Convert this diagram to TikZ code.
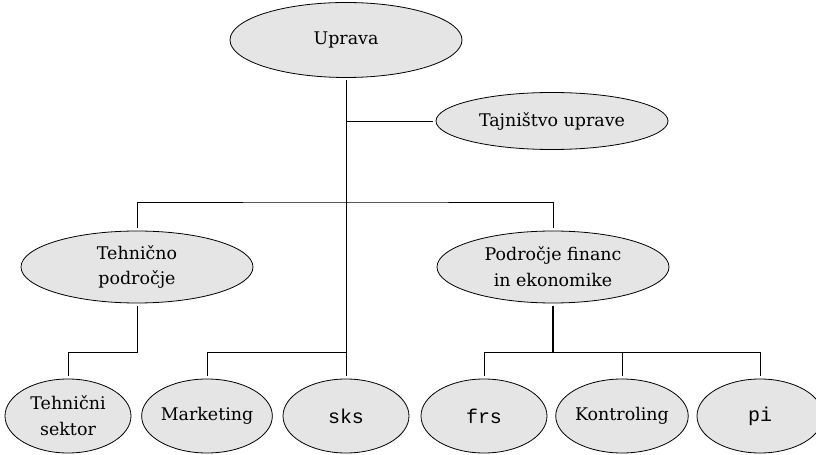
\documentclass[tikz,border=0pt]{standalone}
\usepackage{fontspec}
\setmainfont{DejaVu Serif}
\setmonofont{Liberation Mono}
\usepackage{tikz}
\usetikzlibrary{positioning}
\usetikzlibrary{shapes,shapes.geometric,calc}

\begin{document}
\begin{tikzpicture}[x=1bp,y=-1bp,line width=0.8bp,
    unit/.style={ellipse,draw,fill=black!10,inner sep=0pt,outer sep=3bp,
      align=center,font=\fontsize{17.5}{26}\selectfont,
      minimum width=232bp,minimum height=72bp},
    leaf/.style={unit,minimum width=126bp,minimum height=74bp},
    code/.style={font=\ttfamily\fontsize{20}{26}\selectfont}]
    \useasboundingbox (0,0) rectangle (816,455);

        \node[unit,minimum height=75bp] (uprava) at (346,40) {Uprava};
        \node[unit,minimum height=57bp] (tajnistvo) at (552,121) {Tajništvo uprave};
        \node[unit] (tehnicno) at (137,267) {Tehnično\\področje};
        \node[unit] (financ) at (553,267) {Področje financ\\in ekonomike};

        \node[leaf] (tsektor) at (68,416) {Tehnični\\sektor};
        \node[leaf] (marketing) at (207,416) {Marketing};
        \node[leaf,code] (sks) at (346,416) {sks};
        \node[leaf,code] (frs) at (484,416) {frs};
        \node[leaf] (kontroling) at (622,416) {Kontroling};
        \node[leaf,code] (pi) at (760,416) {pi};

        \coordinate (midbus) at (0,202);
        \coordinate (lowbus) at (0,352);

        % trunk and staff unit
        \draw (uprava.south) -- (uprava.south |- sks.north);
        \draw (uprava.south |- tajnistvo.west) -- (tajnistvo.west);
        \draw (tehnicno.north) |- (uprava.south |- midbus) -| (financ.north);

        % lower level
        \draw (tehnicno.south) -- (tehnicno.south |- lowbus) -| (tsektor.north);
        \draw (marketing.north) |- (uprava.south |- lowbus);
        \draw[line width=1.6bp] (financ.south) -- (financ.south |- lowbus);
        \draw (frs.north) |- (pi.north |- lowbus) -- (pi.north);
        \draw (kontroling.north) -- (kontroling.north |- lowbus);
    \end{tikzpicture}
\end{document}
